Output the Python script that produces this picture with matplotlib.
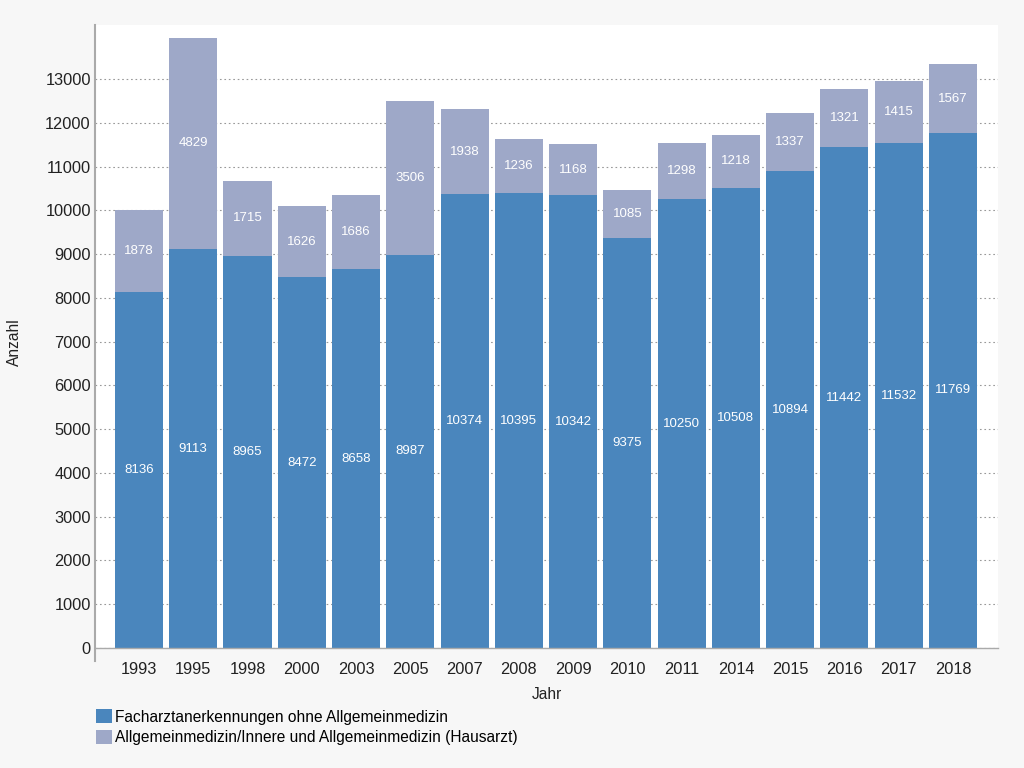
import matplotlib
matplotlib.use("Agg")
import matplotlib.pyplot as plt
import numpy as np

plt.rcParams['font.family'] = ['Liberation Sans', 'DejaVu Sans']

years = ["1993", "1995", "1998", "2000", "2003", "2005", "2007", "2008", "2009",
         "2010", "2011", "2014", "2015", "2016", "2017", "2018"]
facharzt = [8136, 9113, 8965, 8472, 8658, 8987, 10374, 10395, 10342,
            9375, 10250, 10508, 10894, 11442, 11532, 11769]
allgemein = [1878, 4829, 1715, 1626, 1686, 3506, 1938, 1236, 1168,
             1085, 1298, 1218, 1337, 1321, 1415, 1567]
yticks = list(range(0, 14000, 1000))

c1 = "#4a86bd"
c2 = "#9ea8c8"

fig = plt.figure(figsize=(10.24, 7.68), dpi=100, facecolor="#f7f7f7")
ax = fig.add_axes([95/1024, 1-648/768, (998-95)/1024, (648-25)/768])
ax.set_facecolor("white")

x = np.arange(len(years))
w = 0.885
b1 = ax.bar(x, facharzt, width=w, color=c1, label="Facharztanerkennungen ohne Allgemeinmedizin", zorder=2)
b2 = ax.bar(x, allgemein, width=w, bottom=facharzt, color=c2,
            label="Allgemeinmedizin/Innere und Allgemeinmedizin (Hausarzt)", zorder=2)

for i in range(len(years)):
    ax.text(x[i], facharzt[i]/2, str(facharzt[i]), ha="center", va="center",
            color="white", fontsize=9.5, zorder=3)
    ax.text(x[i], facharzt[i] + allgemein[i]/2, str(allgemein[i]), ha="center", va="center",
            color="white", fontsize=9.5, zorder=3)

ax.set_xlim(-0.81, 15.83)
ax.set_ylim(0, 14234)
ax.set_yticks(yticks)
ax.set_xticks(x)
ax.set_xticklabels(years)
ax.tick_params(axis="both", length=0, labelsize=11.8, colors="#222222")
ax.tick_params(axis="x", pad=10)
ax.tick_params(axis="y", pad=3)
ax.grid(axis="y", color="#999999", linestyle=(0, (1.5, 2.5)), linewidth=0.8, zorder=1)

for s in ["top", "right"]:
    ax.spines[s].set_visible(False)
ax.spines["left"].set_color("#aaaaaa")
ax.spines["left"].set_linewidth(1.5)
ax.spines["left"].set_bounds(-300, 14234)
ax.spines["bottom"].set_color("#aaaaaa")
ax.spines["bottom"].set_linewidth(1.0)

ax.set_xlabel("Jahr", fontsize=11.2, color="#222222", labelpad=7)
fig.text(14/1024, 1-342/768, "Anzahl", rotation=90, ha="center", va="center",
         fontsize=11.2, color="#222222")

leg = fig.legend(handles=[b1, b2], loc="upper left", bbox_to_anchor=(90/1024, 1-703/768),
                 frameon=False, fontsize=11.2, handlelength=1.0, handleheight=1.0,
                 handletextpad=0.2, labelspacing=0.35, borderaxespad=0)

fig.savefig("out.png", dpi=100, facecolor=fig.get_facecolor())
